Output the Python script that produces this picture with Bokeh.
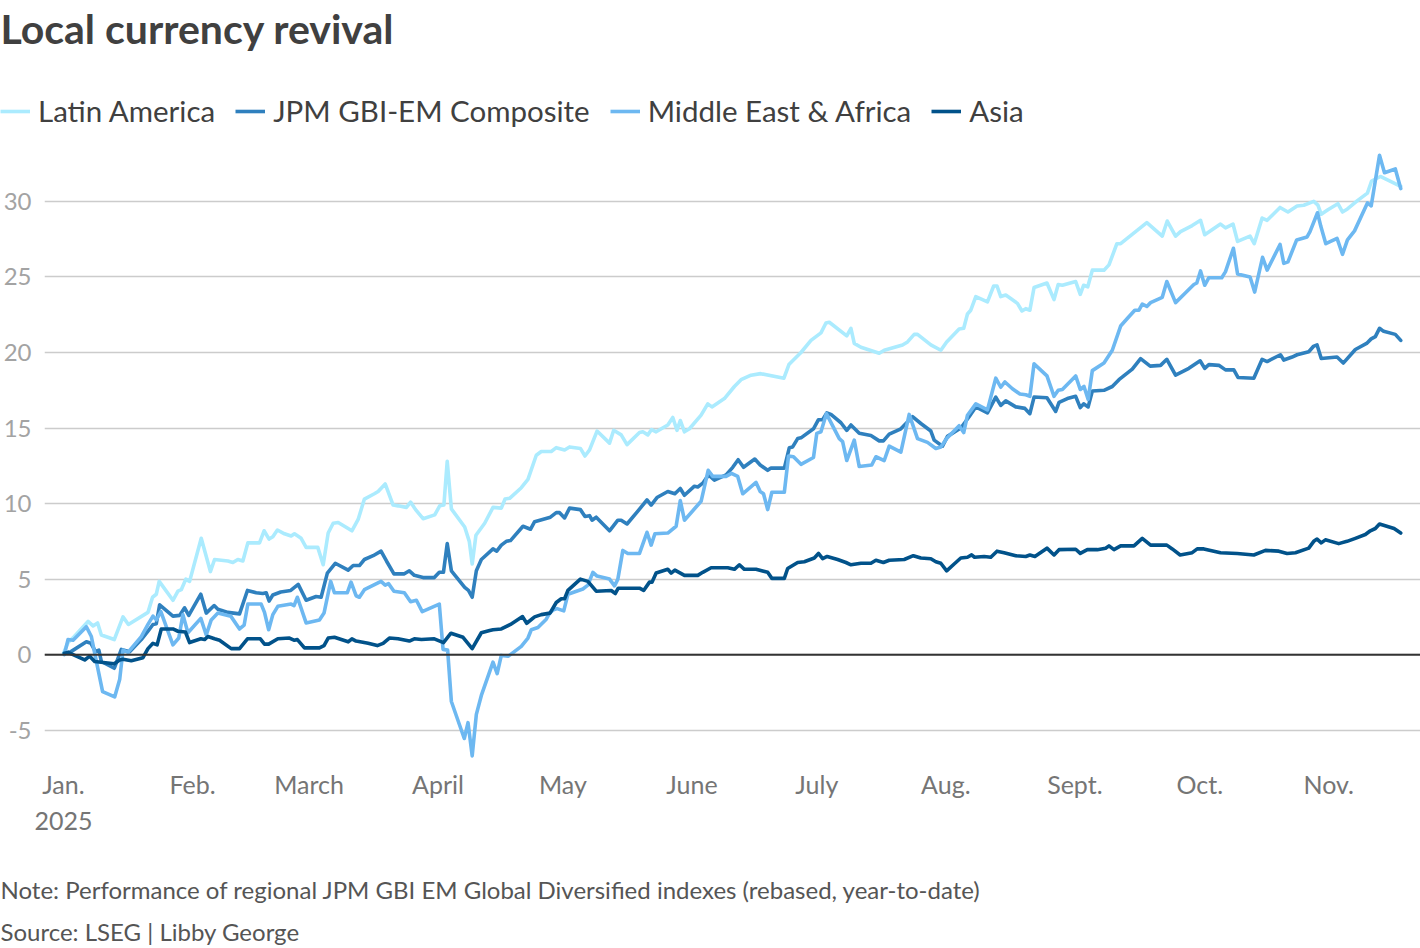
import numpy as np
from bokeh.plotting import figure
from bokeh.layouts import column
from bokeh.models import (Range1d, FixedTicker, CustomJSTickFormatter, Legend,
                          LegendItem, Label, Span)
from bokeh.embed import file_html
from bokeh.resources import INLINE

# ---------------- data (days since 1 Jan 2025, % change YTD) ----------------
title_text = "Local currency revival"
note_text = "Note: Performance of regional JPM GBI EM Global Diversified indexes (rebased, year-to-date)"
source_text = "Source: LSEG | Libby George"

series_names = ["Latin America", "JPM GBI-EM Composite", "Middle East & Africa", "Asia"]
month_starts = ["2025-01-01", "2025-02-01", "2025-03-01", "2025-04-01", "2025-05-01", "2025-06-01",
                "2025-07-01", "2025-08-01", "2025-09-01", "2025-10-01", "2025-11-01"]
month_labels = ["Jan.", "Feb.", "March", "April", "May", "June", "July", "Aug.", "Sept.", "Oct.", "Nov."]
year_label = "2025"
y_ticks = [-5, 0, 5, 10, 15, 20, 25, 30]

latam = [(0, 0.1), (1.1, 0.8), (2.6, 1.2), (5.9, 2.2), (7.1, 1.9), (8.2, 2.1), (9.1, 1.3), (12.2, 1.0),
         (14.3, 2.5), (15.6, 2.0), (20.3, 2.8), (21.4, 3.8), (22.3, 4.0), (23.0, 4.85), (26.3, 3.6),
         (27.5, 4.2), (28.3, 4.3), (29.4, 5.0), (30.3, 4.85), (33.1, 7.7), (35.3, 5.5), (36.3, 6.3),
         (39.5, 6.2), (40.7, 6.1), (41.9, 6.3), (43.1, 6.2), (44.3, 7.4), (47.1, 7.4), (48.2, 8.2),
         (49.4, 7.65), (50.3, 7.8), (51.4, 8.25), (53.1, 8.0), (54.7, 7.85), (55.5, 8.0), (57.1, 7.7),
         (58.3, 7.1), (61.1, 7.1), (62.4, 5.95), (63.6, 8.05), (64.8, 8.7), (66.0, 8.75), (67.5, 8.5),
         (69.3, 8.2), (70.8, 8.95), (72.3, 10.3), (74.7, 10.65), (75.6, 10.8), (77.3, 11.3), (79.2, 9.9),
         (80.4, 9.85), (82.4, 9.75), (83.4, 10.1), (84.6, 9.6), (86.4, 9.0), (89.2, 9.25), (90.4, 9.85),
         (91.4, 9.9), (92.2, 12.8), (93.2, 9.65), (96.4, 8.45), (97.5, 7.5), (98.2, 6.0), (99.1, 7.9),
         (101.2, 8.7), (103.2, 9.75), (105.2, 9.7), (106.1, 10.3), (107.2, 10.35), (110.0, 11.05),
         (111.6, 11.6), (113.6, 13.2), (114.8, 13.45), (117.2, 13.45), (118.4, 13.7), (120.4, 13.55),
         (121.6, 13.75), (124.2, 13.65), (125.3, 13.15), (126.4, 13.55), (128.2, 14.8), (131.2, 14.0),
         (132.2, 14.85), (134.0, 14.55), (135.4, 13.9), (138.4, 14.7), (139.2, 14.75), (140.4, 14.55),
         (141.3, 14.9), (142.4, 14.75), (145.2, 15.2), (146.4, 15.7), (147.4, 14.85), (148.2, 15.5),
         (149.2, 14.75), (150.4, 14.95), (153.2, 15.85), (154.8, 16.6), (155.8, 16.4), (158.8, 16.95),
         (161.2, 17.75), (162.8, 18.2), (165.2, 18.5), (167.5, 18.6), (173.1, 18.3), (174.3, 19.2),
         (177.2, 20.0), (179.6, 20.8), (182.0, 21.3), (183.2, 21.95), (184.0, 22.0), (188.2, 21.1),
         (189.2, 21.6), (190.0, 20.6), (191.6, 20.35), (196.0, 19.95), (197.2, 20.15), (201.6, 20.5),
         (202.8, 20.7), (204.4, 21.2), (205.2, 21.2), (208.4, 20.5), (210.8, 20.15), (212.2, 20.7),
         (215.2, 21.55), (216.3, 21.6), (217.2, 22.55), (218.0, 22.8), (219.2, 23.7), (222.0, 23.35),
         (223.5, 24.4), (224.3, 24.4), (225.2, 23.7), (226.4, 23.8), (229.2, 23.25), (230.3, 22.75),
         (231.2, 22.9), (232.2, 22.8), (233.2, 24.3), (236.3, 24.6), (238.0, 23.5), (239.0, 24.5),
         (240.0, 24.45), (243.2, 24.7), (244.3, 23.85), (245.1, 24.45), (246.1, 24.35), (247.2, 25.45),
         (250.0, 25.45), (251.2, 25.8), (253.1, 27.2), (254.0, 27.2), (257.6, 28.0), (260.3, 28.6),
         (264.0, 27.7), (265.2, 28.7), (267.2, 27.7), (268.4, 28.0), (271.2, 28.4), (273.2, 28.75),
         (274.2, 27.8), (278.0, 28.5), (279.2, 28.25), (281.0, 28.5), (282.1, 27.35), (285.1, 27.7),
         (286.1, 27.2), (288.0, 28.9), (289.2, 28.75), (292.3, 29.6), (294.2, 29.3), (296.4, 29.7),
         (298.0, 29.75), (300.4, 30.0), (301.4, 29.75), (302.2, 29.15), (303.8, 29.45), (306.2, 29.85),
         (307.3, 29.3), (308.5, 29.5), (310.9, 30.05), (313.3, 30.55), (314.3, 31.35), (316.4, 31.65),
         (321.3, 31.0)]

jpm = [(0.2, 0.1), (1.8, 0.2), (5.5, 0.85), (6.6, 0.75), (7.7, 0.2), (8.5, 0.3), (9.1, -0.45),
       (12.2, -0.9), (13.9, 0.35), (15.9, 0.2), (18.7, 1.0), (20.3, 1.55), (21.5, 2.0), (22.3, 2.05),
       (23.1, 3.3), (26.3, 2.55), (27.9, 2.6), (29.1, 3.1), (30.1, 2.6), (33.0, 4.0), (34.3, 2.75),
       (36.2, 3.25), (37.1, 3.0), (39.5, 2.8), (42.3, 2.7), (44.2, 4.25), (46.3, 4.1), (47.9, 4.05),
       (48.7, 4.1), (49.4, 3.55), (50.3, 3.95), (52.2, 4.15), (54.6, 4.25), (56.4, 4.65), (58.3, 3.6),
       (60.7, 3.85), (61.9, 3.8), (63.4, 5.4), (65.3, 6.05), (68.4, 5.6), (69.6, 5.9), (71.1, 5.9),
       (72.3, 6.3), (74.4, 6.55), (76.3, 6.85), (77.6, 6.2), (79.4, 5.35), (81.9, 5.35), (83.1, 5.55),
       (84.3, 5.25), (86.4, 5.1), (89.1, 5.1), (90.3, 5.45), (91.3, 5.45), (92.2, 7.35), (93.2, 5.55),
       (96.4, 4.45), (97.3, 4.25), (98.2, 3.8), (99.2, 5.55), (100.4, 6.3), (103.2, 7.0), (104.1, 6.85),
       (105.2, 7.25), (106.4, 7.5), (107.4, 7.55), (110.4, 8.5), (112.2, 8.3), (113.2, 8.8),
       (117.0, 9.1), (118.4, 9.4), (119.2, 9.4), (120.4, 9.05), (121.6, 9.7), (124.2, 9.6),
       (125.3, 9.15), (126.4, 9.2), (127.0, 8.9), (128.0, 9.1), (131.2, 8.2), (133.2, 8.9),
       (134.0, 8.9), (135.4, 8.65), (138.0, 9.5), (140.2, 10.25), (141.2, 9.9), (142.6, 10.4),
       (145.2, 10.8), (146.9, 10.65), (148.2, 11.0), (149.2, 10.55), (151.6, 11.15), (152.4, 11.1),
       (153.6, 11.35), (155.0, 11.9), (156.4, 11.55), (159.2, 11.9), (160.8, 12.4), (162.1, 12.9),
       (163.4, 12.4), (166.1, 12.95), (167.4, 12.55), (169.2, 12.2), (170.0, 12.35), (173.2, 12.35),
       (174.4, 13.7), (175.2, 13.75), (176.4, 14.3), (177.2, 14.35), (180.2, 14.95), (181.4, 15.55),
       (182.4, 15.55), (183.4, 16.0), (184.4, 15.9), (186.8, 15.35), (188.2, 14.85), (189.2, 15.2),
       (191.2, 14.65), (194.0, 14.5), (196.0, 14.15), (197.0, 14.15), (198.4, 14.6), (201.2, 14.95),
       (204.0, 15.75), (206.0, 15.3), (208.4, 14.8), (209.2, 14.2), (211.2, 13.8), (212.4, 14.45),
       (215.6, 15.0), (217.6, 15.75), (219.2, 16.4), (222.0, 16.0), (224.0, 17.05), (225.2, 16.5),
       (226.4, 16.8), (228.8, 16.4), (231.0, 16.3), (232.2, 15.95), (233.2, 17.05), (236.3, 17.0),
       (238.4, 16.1), (239.2, 16.7), (241.2, 16.95), (243.2, 17.1), (244.3, 16.35), (245.1, 16.6),
       (246.2, 16.4), (247.2, 17.45), (250.0, 17.5), (252.0, 17.75), (253.6, 18.2), (256.8, 18.9),
       (258.8, 19.6), (261.1, 19.1), (263.6, 19.15), (265.1, 19.55), (267.2, 18.5), (270.4, 18.95),
       (273.1, 19.45), (274.2, 18.95), (275.2, 19.2), (277.6, 19.15), (279.2, 18.85), (281.2, 18.85),
       (282.2, 18.35), (286.0, 18.3), (288.0, 19.55), (289.2, 19.4), (292.4, 19.85), (293.2, 19.5),
       (295.2, 19.7), (296.4, 19.85), (299.2, 20.05), (300.3, 20.4), (301.2, 20.5), (302.2, 19.6),
       (306.0, 19.7), (307.5, 19.3), (310.4, 20.2), (313.1, 20.6), (314.2, 20.9), (315.2, 21.05),
       (316.2, 21.6), (317.2, 21.4), (320.0, 21.2), (321.3, 20.8)]

mea = [(0.2, 0.0), (1.1, 1.0), (2.3, 0.95), (5.5, 1.85), (6.7, 1.2), (7.9, -0.45), (9.4, -2.45),
       (12.3, -2.8), (13.5, -1.65), (14.3, 0.3), (15.5, 0.15), (18.7, 1.2), (20.3, 2.0), (21.5, 2.55),
       (22.3, 2.3), (23.4, 2.85), (24.7, 1.85), (26.3, 0.65), (27.7, 1.1), (28.7, 2.65), (29.9, 1.45),
       (33.0, 2.4), (34.3, 1.3), (35.5, 2.3), (37.1, 2.75), (40.2, 2.55), (42.3, 1.7), (43.4, 1.95),
       (44.3, 3.35), (47.5, 3.35), (48.3, 2.8), (49.3, 1.65), (50.3, 2.65), (51.5, 3.2), (54.7, 3.35),
       (55.4, 3.25), (56.2, 3.8), (58.3, 2.1), (61.5, 2.3), (62.6, 2.75), (64.2, 4.85), (65.1, 4.1),
       (68.2, 4.1), (69.1, 4.8), (70.3, 3.9), (71.1, 3.8), (72.3, 4.3), (76.3, 4.85), (77.3, 4.6),
       (78.1, 4.7), (79.4, 4.2), (81.9, 4.1), (83.4, 3.5), (84.8, 3.6), (86.2, 2.85), (90.3, 3.35),
       (91.2, 0.35), (92.3, 0.3), (93.2, -3.1), (96.3, -5.55), (97.2, -4.5), (98.2, -6.7), (99.2, -3.95),
       (100.4, -2.7), (103.2, -0.5), (104.2, -1.25), (105.2, -0.05), (106.9, -0.1), (110.0, 0.55),
       (111.6, 1.1), (112.4, 1.65), (114.0, 1.8), (116.0, 2.35), (116.8, 2.75), (117.6, 2.95),
       (118.6, 3.05), (120.2, 2.9), (121.2, 4.0), (124.8, 4.35), (126.0, 4.6), (127.2, 5.45),
       (128.2, 5.2), (131.2, 5.0), (132.4, 4.55), (133.2, 5.0), (134.4, 6.9), (135.6, 6.7),
       (138.4, 6.7), (140.2, 8.1), (141.2, 7.25), (142.1, 8.0), (145.2, 8.05), (147.2, 8.5),
       (148.2, 10.2), (149.2, 8.9), (153.2, 10.15), (154.9, 12.2), (156.0, 11.8), (159.2, 11.8),
       (160.5, 12.0), (162.0, 11.8), (163.2, 10.65), (166.4, 11.4), (167.4, 10.8), (168.2, 10.65),
       (169.2, 9.6), (170.2, 10.75), (173.2, 10.75), (174.2, 13.15), (175.4, 13.1), (177.2, 12.6),
       (180.2, 13.05), (181.0, 14.65), (182.0, 14.75), (183.3, 15.95), (186.4, 14.3), (187.2, 14.1),
       (188.2, 12.85), (190.0, 14.2), (191.2, 12.45), (194.2, 12.55), (195.2, 13.1), (197.2, 12.85),
       (198.4, 13.8), (201.2, 13.4), (203.2, 15.9), (205.2, 14.3), (207.6, 14.05), (209.6, 13.65),
       (210.8, 13.75), (212.2, 14.3), (215.2, 15.15), (216.3, 14.7), (217.2, 15.85), (219.2, 16.6),
       (222.0, 16.2), (224.0, 18.3), (225.2, 17.7), (226.2, 18.05), (228.0, 17.6), (229.8, 17.25),
       (231.2, 17.2), (232.2, 17.1), (233.2, 19.25), (236.3, 18.45), (238.0, 17.1), (239.0, 17.5),
       (240.0, 17.55), (243.2, 18.45), (244.3, 17.55), (245.2, 17.75), (246.2, 16.9), (247.2, 18.8),
       (250.0, 19.3), (252.0, 20.15), (254.0, 21.75), (255.6, 22.25), (257.4, 22.8), (258.4, 22.8),
       (259.2, 23.2), (260.3, 23.05), (261.2, 23.3), (264.0, 23.65), (265.1, 24.7), (267.2, 23.3),
       (269.6, 23.95), (271.6, 24.5), (272.3, 24.6), (273.2, 25.4), (274.2, 24.45), (275.2, 24.95),
       (278.3, 24.95), (279.2, 25.35), (281.1, 26.9), (282.1, 25.2), (285.1, 25.0), (286.2, 24.0),
       (288.1, 26.3), (289.2, 25.45), (292.3, 27.15), (293.2, 25.9), (294.2, 26.0), (296.3, 27.45),
       (298.8, 27.65), (299.5, 28.0), (301.3, 29.25), (302.1, 28.35), (303.3, 27.2), (306.0, 27.55),
       (307.3, 26.5), (308.5, 27.45), (310.2, 28.05), (313.3, 29.9), (314.2, 29.7), (316.2, 33.05),
       (317.4, 31.9), (320.0, 32.15), (321.3, 30.85)]

asia = [(0.2, 0.1), (1.1, 0.15), (5.1, -0.35), (6.3, -0.1), (7.5, -0.45), (12.2, -0.6), (13.5, -0.35),
        (14.3, -0.3), (16.3, -0.4), (19.1, -0.2), (20.3, 0.4), (21.5, 0.75), (22.5, 0.65), (23.5, 1.7),
        (26.3, 1.7), (27.5, 1.55), (29.3, 1.5), (30.3, 0.8), (33.0, 1.05), (33.9, 1.0), (34.7, 1.2),
        (36.3, 1.05), (37.5, 0.95), (40.3, 0.4), (42.3, 0.4), (44.2, 1.05), (47.3, 1.05), (48.3, 0.7),
        (49.3, 0.7), (51.5, 1.05), (54.3, 1.1), (55.5, 0.95), (56.2, 1.0), (57.9, 0.45), (61.5, 0.45),
        (62.6, 0.6), (63.6, 1.1), (65.1, 1.15), (68.4, 0.85), (69.3, 1.05), (70.3, 0.9), (73.2, 0.75),
        (75.4, 0.6), (76.8, 0.75), (78.3, 1.1), (80.4, 1.05), (83.1, 0.9), (84.3, 1.05), (86.0, 1.0),
        (89.1, 1.05), (91.3, 0.8), (93.1, 1.42), (96.0, 1.15), (98.2, 0.4), (100.4, 1.45), (102.4, 1.6),
        (103.2, 1.65), (105.2, 1.7), (107.4, 2.0), (110.3, 2.52), (111.3, 2.08), (113.2, 2.5),
        (114.8, 2.65), (116.9, 2.75), (118.4, 3.45), (119.6, 3.7), (120.4, 3.7), (121.2, 4.25),
        (124.2, 5.0), (126.0, 4.85), (128.0, 4.2), (131.6, 4.25), (132.6, 4.05), (133.3, 4.4),
        (138.4, 4.4), (139.4, 4.25), (140.8, 4.8), (141.4, 4.8), (142.4, 5.4), (145.2, 5.65),
        (146.0, 5.4), (146.9, 5.6), (149.2, 5.25), (152.4, 5.25), (153.6, 5.45), (155.6, 5.75),
        (159.6, 5.75), (161.2, 5.65), (162.4, 5.95), (163.6, 5.65), (166.4, 5.65), (169.2, 5.45),
        (170.2, 5.05), (173.2, 5.05), (174.0, 5.7), (176.4, 6.1), (178.0, 6.15), (180.4, 6.4),
        (181.4, 6.7), (182.4, 6.35), (183.5, 6.5), (186.0, 6.3), (188.0, 6.1), (189.2, 5.95),
        (191.6, 6.05), (194.0, 6.05), (195.2, 6.25), (197.0, 6.1), (198.4, 6.25), (202.0, 6.3),
        (204.2, 6.55), (206.0, 6.4), (208.4, 6.35), (209.6, 6.15), (210.8, 6.05), (212.2, 5.55),
        (214.0, 6.0), (215.6, 6.4), (217.2, 6.45), (218.2, 6.6), (218.9, 6.45), (221.2, 6.5),
        (222.8, 6.45), (224.3, 6.85), (226.0, 6.75), (228.8, 6.55), (231.2, 6.5), (232.2, 6.6),
        (233.4, 6.5), (236.3, 7.05), (238.0, 6.6), (239.2, 6.95), (243.2, 6.98), (244.3, 6.7),
        (246.0, 6.95), (248.4, 6.95), (250.4, 7.05), (251.2, 7.2), (252.4, 6.95), (254.0, 7.2),
        (257.2, 7.2), (259.2, 7.7), (261.2, 7.25), (265.1, 7.25), (266.4, 7.0), (268.3, 6.6),
        (271.2, 6.75), (272.4, 7.0), (274.0, 7.0), (278.0, 6.75), (282.0, 6.7), (286.0, 6.6),
        (288.8, 6.9), (292.0, 6.85), (294.0, 6.7), (296.0, 6.75), (299.2, 7.05), (300.4, 7.5),
        (301.2, 7.65), (302.2, 7.4), (303.2, 7.6), (306.4, 7.35), (308.4, 7.5), (310.4, 7.7),
        (312.8, 7.95), (314.0, 8.2), (315.2, 8.35), (316.2, 8.65), (319.7, 8.35), (321.3, 8.05)]

# ---------------- styling / layout ----------------
colors = ["#abebfe", "#2f80be", "#6db8f1", "#01528a"]
FONT = "Lato"
W = 1420
TOP_H = 150            # title + legend strip
FRAME_H = 615          # plot frame height
AXIS_H = 72            # x-axis label strip
BOTTOM_H = 948 - TOP_H - FRAME_H - AXIS_H   # note + source strip
BOTTOM_Y0 = TOP_H + FRAME_H + AXIS_H
FRAME_LEFT = 43

MS_DAY = 86400000.0
BASE_MS = float(np.datetime64("2025-01-01", "ms").astype("int64"))


def to_dates(pairs):
    d = np.array([p[0] for p in pairs], dtype=float)
    return (np.datetime64("2025-01-01", "ms") + np.round(d * MS_DAY).astype("int64").astype("timedelta64[ms]"))


def vals(pairs):
    return [p[1] for p in pairs]


def strip(height):
    f = figure(width=W, height=height, output_backend="svg", toolbar_location=None, title=None,
               x_axis_location=None, y_axis_location=None, x_range=Range1d(0, 1), y_range=Range1d(0, 1),
               min_border=0, outline_line_color=None, background_fill_color="white",
               border_fill_color="white", frame_align=False)
    f.grid.visible = False
    return f


def text_label(text, x, y, size, style="normal", color="#404040"):
    return Label(x=x, y=y, x_units="screen", y_units="screen", text=text, text_font=FONT,
                 text_font_size=size, text_font_style=style, text_color=color,
                 text_align="left", text_baseline="middle")


# ---- main chart ----
x_start = BASE_MS + (-4.56) * MS_DAY
x_end = BASE_MS + 326.05 * MS_DAY

p = figure(width=W, height=FRAME_H + AXIS_H, x_axis_type="datetime", output_backend="svg",
           toolbar_location=None, title=None, x_range=Range1d(x_start, x_end),
           y_range=Range1d(-7.27, 33.37), frame_align=False,
           min_border_left=FRAME_LEFT, min_border_right=0, min_border_top=0, min_border_bottom=AXIS_H,
           background_fill_color="white", border_fill_color="white", outline_line_color=None)

p.xgrid.visible = False
p.ygrid.ticker = FixedTicker(ticks=y_ticks)
p.ygrid.grid_line_color = "#cccccc"
p.ygrid.grid_line_width = 1.6

zero = Span(location=0, dimension="width", line_color="#333333", line_width=2, level="glyph")
p.add_layout(zero)

for pairs, col in zip([latam, jpm, mea, asia], colors):
    p.line(to_dates(pairs), vals(pairs), line_color=col, line_width=3.6, line_join="round",
           line_cap="round")

month_ticks = [float(v) for v in np.array(month_starts, dtype="datetime64[ms]").astype("int64")]
xa = p.xaxis[0]
xa.ticker = FixedTicker(ticks=month_ticks)
xa.formatter = CustomJSTickFormatter(args=dict(labels=month_labels, year=year_label), code="""
const m = new Date(tick).getUTCMonth();
return m == 0 ? labels[m] + "\\n" + year : labels[m];
""")
xa.axis_line_color = None
xa.major_tick_line_color = None
xa.minor_tick_line_color = None
xa.major_tick_out = 0
xa.major_tick_in = 0
xa.major_label_standoff = 4
xa.major_label_text_font = FONT
xa.major_label_text_font_size = "25px"
xa.major_label_text_color = "#757575"

ya = p.yaxis[0]
ya.ticker = FixedTicker(ticks=y_ticks)
ya.formatter = CustomJSTickFormatter(code="return tick.toFixed(0);")
ya.axis_line_color = None
ya.major_tick_line_color = None
ya.minor_tick_line_color = None
ya.major_tick_out = 0
ya.major_tick_in = 0
ya.major_label_standoff = 13
ya.major_label_text_font = FONT
ya.major_label_text_font_size = "24px"
ya.major_label_text_color = "#a3a3a3"

# ---- top strip: title + legend ----
top = strip(TOP_H)
legend_renderers = [top.line(x=[np.nan], y=[np.nan], line_color=col, line_width=3.6) for col in colors]
top.add_layout(text_label(title_text, 0, TOP_H - 27.5, "41px", "bold", "#404040"))
legend = Legend(items=[LegendItem(label=n, renderers=[r]) for n, r in zip(series_names, legend_renderers)],
                orientation="horizontal", location=(0, 22), label_text_font=FONT,
                label_text_font_size="29.5px", label_text_color="#404040", glyph_width=30,
                glyph_height=20, label_standoff=8, spacing=20, padding=0, margin=0,
                border_line_color=None, background_fill_alpha=0)
top.add_layout(legend, "center")

# ---- bottom strip: note + source ----
bottom = strip(BOTTOM_H)
bottom.add_layout(text_label(note_text, 0, BOTTOM_H - (888.5 - BOTTOM_Y0), "24px", "normal", "#555555"))
bottom.add_layout(text_label(source_text, 0, BOTTOM_H - (931.0 - BOTTOM_Y0), "24px", "normal", "#555555"))

layout = column(top, p, bottom, spacing=0)
open("out.html", "w").write(file_html(layout, INLINE))
